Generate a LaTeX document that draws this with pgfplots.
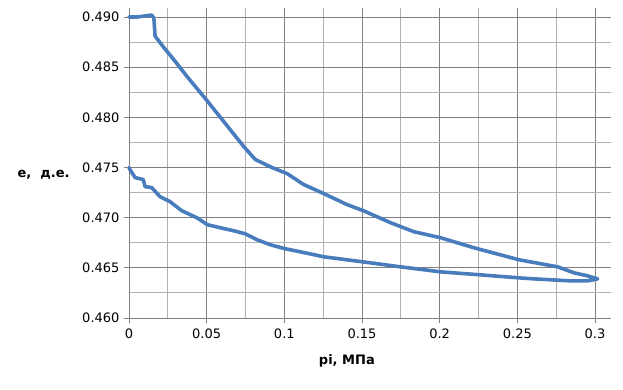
\documentclass[border=0pt]{standalone}
\usepackage{fontspec}
\setmainfont{DejaVu Sans}
\usepackage{pgfplots}
\pgfplotsset{compat=1.18}
\definecolor{serblue}{RGB}{72,124,188}
\definecolor{majgrid}{RGB}{128,128,128}
\definecolor{mingrid}{RGB}{178,178,178}
\begin{document}
\begin{tikzpicture}[x=1pt,y=1pt]
\useasboundingbox (-129,-71) rectangle (494,318);
\begin{axis}[
  scale only axis,
  width=482pt, height=310pt,
  at={(0,0)}, anchor=south west,
  xmin=0, xmax=0.3103, ymin=0.460, ymax=0.4909,
  axis lines=left,
  axis line style={majgrid, line width=0.9pt, -},
  xtick={0,0.05,0.1,0.15,0.2,0.25,0.3},
  xticklabels={0,0.05,0.1,0.15,0.2,0.25,0.3},
  ytick={0.460,0.465,0.470,0.475,0.480,0.485,0.490},
  minor xtick={0.025,0.075,0.125,0.175,0.225,0.275},
  minor ytick={0.4625,0.4675,0.4725,0.4775,0.4825,0.4875},
  grid=both,
  major grid style={majgrid, line width=0.9pt},
  minor grid style={mingrid, line width=0.9pt},
  tick align=outside,
  major tick length=5pt,
  minor tick length=0pt,
  tick style={majgrid, line width=0.9pt},
  /pgf/number format/assume math mode=true,
  yticklabel style={/pgf/number format/fixed, /pgf/number format/fixed zerofill, /pgf/number format/precision=3, font=\fontsize{13}{15}\selectfont, xshift=-1pt},
  xticklabel style={font=\fontsize{13}{15}\selectfont, yshift=-2pt},
  scaled y ticks=false, scaled x ticks=false,
  xlabel={\textbf{pi, МПа}},
  ylabel={\textbf{e,\ \ д.е.}},
  xlabel style={at={(axis description cs:0.452,-0.140)}, anchor=center, font=\fontsize{13}{15}\selectfont},
  ylabel style={rotate=-90, at={(axis description cs:-0.177,0.461)}, anchor=center, font=\fontsize{13}{15}\selectfont},
  clip=false,
]
\addplot[serblue, line width=3.6pt, line join=round, line cap=round, no marks] coordinates {
(0,0.4900) (0.005,0.4900) (0.010,0.4901) (0.0146,0.4902) (0.0160,0.4899) (0.0168,0.4881)
(0.0222,0.4870) (0.0286,0.4858) (0.0372,0.4841) (0.0506,0.4816) (0.0609,0.4796)
(0.0738,0.4771) (0.0813,0.4758) (0.0920,0.4750) (0.1017,0.4744) (0.1125,0.4733)
(0.1254,0.4724) (0.1404,0.4713) (0.1508,0.4707) (0.1684,0.4695) (0.1834,0.4686)
(0.2006,0.4680) (0.2135,0.4674) (0.2221,0.4670) (0.2512,0.4658) (0.2759,0.4651)
(0.2866,0.4645) (0.2953,0.4642) (0.3017,0.4639)
(0.2953,0.4637) (0.2845,0.4637) (0.2608,0.4639) (0.2512,0.4640) (0.2264,0.4643)
(0.2006,0.4646) (0.1748,0.4651) (0.1505,0.4656) (0.1254,0.4661) (0.1103,0.4666)
(0.1006,0.4669) (0.0910,0.4673) (0.0824,0.4678) (0.0748,0.4684) (0.0673,0.4687)
(0.0587,0.4690) (0.0505,0.4693) (0.0436,0.4700) (0.0339,0.4707) (0.0264,0.4716)
(0.0199,0.4721) (0.0146,0.4730) (0.0103,0.4731) (0.0092,0.4738) (0.0039,0.4740)
(0.0006,0.4748) (0,0.4750)
};
\end{axis}
\end{tikzpicture}
\end{document}
